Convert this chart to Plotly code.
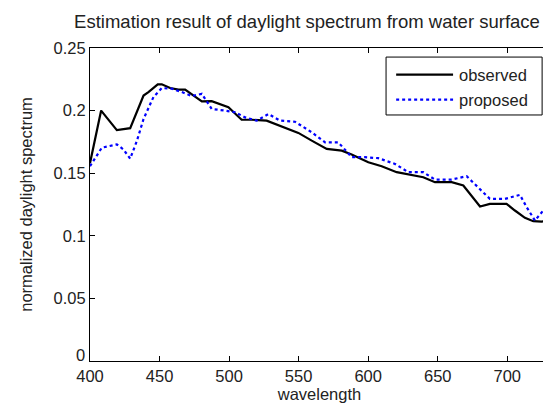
import plotly.graph_objects as go

obs_wl = [400, 408, 419.3, 422.9, 428.9, 438.5, 442, 448.7, 451.6, 457.6, 463.6, 468.4, 474.4,
          480.4, 487.5, 494.7, 499.5, 509, 516.3, 527, 536.6, 549.8, 559.4, 570.2, 581, 588.1,
          600.1, 609.7, 620.5, 630.1, 639.6, 648, 660, 668.4, 674.4, 680.4, 687.5, 699.5,
          705.5, 712.7, 718.7, 724.7, 730]
obs_val = [0.158, 0.200, 0.1844, 0.185, 0.186, 0.212, 0.2148, 0.221, 0.221, 0.218, 0.2167, 0.2167, 0.212,
           0.2073, 0.2075, 0.2048, 0.2027, 0.1927, 0.1927, 0.192, 0.188, 0.1822, 0.176, 0.1694, 0.168, 0.1649,
           0.1588, 0.1556, 0.1508, 0.1487, 0.1468, 0.1428, 0.1428, 0.1402, 0.1316, 0.1234, 0.1255, 0.1255,
           0.1202, 0.1144, 0.1117, 0.1114, 0.1122]

prop_wl = [400, 408.5, 419.3, 424, 428.9, 433.7, 438.5, 445.6, 451.6, 458.8, 466, 473.2, 480.4,
           487.5, 497.1, 504.3, 511.5, 519.9, 528.3, 536.6, 547.4, 559.4, 569, 578.5, 588.1,
           597.7, 607.3, 619.3, 628.9, 639.6, 648, 660, 670.8, 679.2, 687.5, 698.3, 709.1,
           713.9, 719.9, 725.9, 730]
prop_val = [0.1556, 0.1704, 0.173, 0.169, 0.1616, 0.1758, 0.1933, 0.2108, 0.218, 0.2175, 0.2148, 0.2116, 0.2134,
            0.2013, 0.2, 0.1987, 0.1946, 0.192, 0.1973, 0.192, 0.1911, 0.1827, 0.1747, 0.1747, 0.1628,
            0.1628, 0.162, 0.1574, 0.1508, 0.1508, 0.1449, 0.1449, 0.1476, 0.1388, 0.1295, 0.1295, 0.1327,
            0.1229, 0.1122, 0.1202, 0.1237]

series_names = ["observed", "proposed"]
x_ticks = [400, 450, 500, 550, 600, 650, 700]
y_ticks = [0, 0.05, 0.1, 0.15, 0.2, 0.25]
y_tick_labels = ["0", "0.05", "0.1", "0.15", "0.2", "0.25"]

FONT = "Liberation Sans, Arial, sans-serif"
FS = 16.5
TXT = "#222222"

styles = [dict(color="black", width=2.2), dict(color="#0000ff", width=2.2, dash="dot")]

fig = go.Figure()
fig.add_trace(go.Scatter(x=obs_wl, y=obs_val, mode="lines", name=series_names[0], line=styles[0]))
fig.add_trace(go.Scatter(x=prop_wl, y=prop_val, mode="lines", name=series_names[1], line=styles[1]))

fig.update_layout(
    width=551, height=403,
    paper_bgcolor="white", plot_bgcolor="white",
    margin=dict(l=82, r=10, t=40, b=50, autoexpand=False),
    font=dict(family=FONT, size=FS, color=TXT),
    title=dict(text="Estimation result of daylight spectrum from water surface",
               x=(58 + 540) / 2 / 551, xanchor="center", y=1 - 14 / 403, yanchor="middle",
               font=dict(family=FONT, size=18.5, color=TXT)),
    showlegend=False,
)

# legend box drawn in paper coordinates
fig.add_shape(type="rect", xref="paper", yref="paper", x0=0.645, x1=0.985, y0=0.786, y1=0.971,
              line=dict(color="black", width=1), fillcolor="white", layer="above")
legend_rows_y = [0.9147, 0.8348]
for name, st, ly in zip(series_names, styles, legend_rows_y):
    fig.add_shape(type="line", xref="paper", yref="paper", x0=0.667, x1=0.791, y0=ly, y1=ly,
                  line=st, layer="above")
    fig.add_annotation(xref="paper", yref="paper", x=0.800, y=ly, text=name, showarrow=False,
                       xanchor="left", yanchor="middle", font=dict(family=FONT, size=FS, color=TXT))

# the bottom "0" label sits slightly above the axis corner, as in the original
shown_y_text = [t if v != 0 else "" for v, t in zip(y_ticks, y_tick_labels)]
fig.add_annotation(xref="paper", yref="y", x=0, y=y_ticks[0], text=y_tick_labels[0], showarrow=False,
                   xanchor="right", yanchor="bottom", xshift=-3, yshift=-5,
                   font=dict(family=FONT, size=FS, color=TXT))

fig.update_xaxes(range=[400, 730], tickvals=x_ticks, ticks="inside", ticklen=5,
                 tickcolor="black", showline=True, linecolor="black", linewidth=1,
                 mirror="ticks", showgrid=False, zeroline=False, automargin=False,
                 ticklabelstandoff=0,
                 title=dict(text="wavelength", standoff=0, font=dict(size=FS)),
                 tickfont=dict(size=FS))
fig.update_yaxes(range=[0, 0.25], tickvals=y_ticks, ticktext=shown_y_text, ticks="inside", ticklen=5,
                 tickcolor="black", showline=True, linecolor="black", linewidth=1,
                 mirror="ticks", showgrid=False, zeroline=False, automargin=False,
                 title=dict(text="normalized daylight spectrum", standoff=16, font=dict(size=FS)),
                 tickfont=dict(size=FS))

fig.write_html("out.html")
